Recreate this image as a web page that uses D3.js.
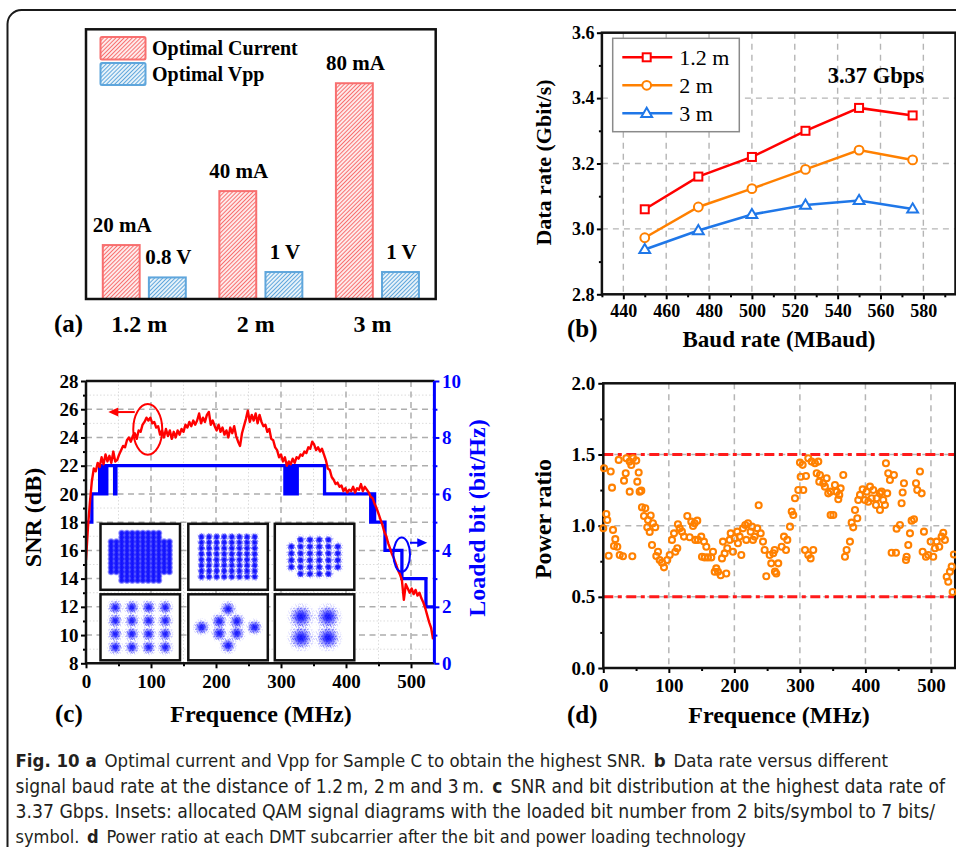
<!DOCTYPE html>
<html>
<head>
<meta charset="utf-8">
<script src="https://cdn.jsdelivr.net/npm/d3@7"></script>
<style>
  html, body { margin: 0; padding: 0; background: #fff; }
  svg { display: block; }
</style>
</head>
<body>
<svg id="fig" width="956" height="847"></svg>
<script>
// ---------------- data ----------------
// (a) optimal bias current and drive amplitude per distance
const distances = ["1.2 m", "2 m", "3 m"];
const optimalCurrent = [20, 40, 80];          // mA
const optimalVpp = [0.8, 1, 1];               // V
const currentLabels = ["20 mA", "40 mA", "80 mA"];
const vppLabels = ["0.8 V", "1 V", "1 V"];

// (b) data rate vs. baud rate
const baudRates = [450, 475, 500, 525, 550, 575];
const rate12m = [3.06, 3.16, 3.22, 3.30, 3.37, 3.347];
const rate2m  = [2.973, 3.067, 3.123, 3.182, 3.241, 3.211];
const rate3m  = [2.937, 2.995, 3.044, 3.073, 3.087, 3.061];
const baudTicks = [440, 460, 480, 500, 520, 540, 560, 580];
const rateTicks = [2.8, 3.0, 3.2, 3.4, 3.6];

// (c) SNR per subcarrier (3 MHz spacing, starting at 0 MHz)
const snrStep = 3;
const snrValues = [
  15.3, 17.6, 19.4, 20.9, 21.8, 21.6, 22.2, 21.9, 22.6, 22.1,
  22.8, 22.3, 22.7, 22.2, 23.0, 22.3, 22.4, 22.8, 23.1, 23.4,
  23.3, 23.8, 24.0, 23.7, 24.1, 24.3, 23.9, 24.5, 24.4, 24.9,
  25.1, 25.4, 25.2, 25.4, 25.0, 25.1, 24.7, 24.8, 24.2, 24.5,
  24.0, 24.6, 24.1, 24.5, 23.9, 24.4, 24.0, 24.5, 24.2, 24.6,
  24.4, 24.9, 24.7, 25.1, 24.8, 25.2, 24.9, 25.2, 25.7, 25.0,
  25.4, 25.1, 25.6, 25.8, 24.9, 25.2, 24.8, 24.5, 24.9, 24.4,
  24.7, 24.2, 24.5, 24.0, 24.7, 24.3, 24.8, 24.1, 23.7, 23.4,
  24.3, 24.8, 25.3, 25.9, 25.1, 25.6, 25.2, 25.7, 25.0, 25.6,
  25.1, 24.8, 24.9, 24.4, 24.6, 23.9, 23.8, 23.3, 23.1, 22.6,
  22.8, 22.3, 22.6, 22.0, 22.3, 22.1, 22.5, 22.2, 22.6, 22.5,
  22.8, 22.7, 23.0, 22.9, 23.3, 23.2, 23.7, 23.5, 23.1, 23.3,
  23.0, 23.2, 22.8, 22.4, 21.8, 21.7, 21.2, 21.0, 20.7, 20.8,
  20.5, 20.6, 20.2, 20.4, 20.1, 20.3, 20.2, 20.5, 20.1, 20.4,
  20.3, 20.7, 20.2, 20.5, 20.3, 20.1, 19.8, 19.7, 19.3, 19.0,
  18.6, 18.2, 17.8, 17.3, 17.0, 16.5, 16.1, 15.7, 15.4, 15.0,
  14.6, 14.3, 13.9, 12.5, 13.6, 13.3, 13.0, 13.3, 12.9, 13.2,
  12.8, 13.0, 12.6, 12.3, 11.9, 11.4, 10.9, 10.5, 9.7
];
// (c) loaded bits: value holds from each frequency to the next
const bitFreq = [0, 9, 21, 22.5, 26, 27.5, 32, 44, 46,
  306, 307, 308, 309, 310, 311, 312, 313, 314, 315, 316, 317, 318, 319, 320, 321, 322, 323, 324, 325,
  367, 438, 441, 444, 460, 486, 523, 536];
const bitValues = [5, 6, 7, 6, 7, 6, 7, 6, 7,
  6, 7, 6, 7, 6, 7, 6, 7, 6, 7, 6, 7, 6, 7, 6, 7, 6, 7, 6, 7,
  6, 5, 6, 5, 4, 3, 2, 2];
const snrTicks = [8, 10, 12, 14, 16, 18, 20, 22, 24, 26, 28];
const bitTicks = [0, 2, 4, 6, 8, 10];
const freqTicks = [0, 100, 200, 300, 400, 500];
// inset constellations, bits per symbol
const insetBits = [7, 6, 5, 4, 3, 2];

// (d) power ratio per subcarrier
const powerFreq = [0, 1.1, 4.6, 6.1, 8.2, 11.3, 13.3, 14.8, 16.3, 18.3, 21.4, 23.5, 25, 30, 31.6, 34.2, 35.1, 40.2, 40.3, 42.7,
  44.3, 45.3, 50.3, 51.9, 54, 55.5, 58, 59, 62.1, 64.1, 67.1, 68.2, 70.8, 72.3, 74.3, 75.8, 79.3, 80.9, 83.5, 86,
  89.6, 92.6, 97.6, 101.3, 104.8, 107.9, 109.9, 112.9, 113.9, 116.6, 120, 123.1, 128.2, 131.8, 134.3, 136.9, 139.4, 140.4, 143.4, 144.5,
  149.5, 150.6, 153.6, 154.7, 157.2, 159.7, 164.8, 167.4, 170, 172.4, 175, 179.1, 181.1, 182.6, 185.2, 187.7, 189.2, 192.8, 194.4, 197.9,
  200.5, 204.5, 205.5, 208.1, 210.6, 213.2, 216.7, 218.2, 220.8, 224.9, 226.9, 228.4, 231, 235, 237.1, 240.2, 243.7, 246.2, 248.7, 253.9,
  256.3, 259.4, 261.5, 262, 264, 267, 272.2, 275.7, 278.8, 280.8, 284.9, 287.5, 289.9, 292.5, 297.6, 300.1, 301.2, 304.2, 305.2, 307.8,
  309.3, 312.8, 312.8, 316.4, 317.9, 320.4, 323, 325.6, 328.1, 329.6, 330.6, 335.7, 338.2, 340.8, 343.3, 346.9, 346.9, 351, 353.5, 356.1,
  358.6, 360.1, 362.2, 366.2, 368.8, 371.3, 376.4, 379, 381.4, 384.1, 387.6, 389.1, 391.7, 395.8, 399.3, 401.9, 404.4, 407, 409.5, 412,
  416.1, 417.1, 422.2, 422.2, 424.7, 427.2, 429.8, 431.3, 433.3, 434.8, 437.4, 440, 443.5, 446.6, 447.6, 452.7, 455.2, 456.8, 458.8, 461.9,
  462.9, 465.4, 468, 470.5, 474.1, 477.2, 479.1, 483.2, 485.8, 487.3, 489.3, 492.4, 495.9, 499.5, 503.5, 506.1, 508.7, 512.7, 516.3, 518.8,
  521.3, 524, 526.4, 529, 531.6, 533.1, 535];
const powerRatio = [0.982, 1.403, 1.082, 1.040, 0.789, 1.380, 1.267, 0.970, 0.857, 0.905, 0.852, 1.462, 0.794, 0.785, 1.316, 1.368, 1.473, 1.450, 1.239, 1.426,
  0.785, 1.473, 1.457, 1.309, 1.373, 1.239, 1.246, 1.129, 1.068, 1.122, 0.989, 1.040, 0.956, 1.071, 0.864, 1.017, 0.989, 0.787, 0.817, 0.759,
  0.740, 0.707, 0.759, 0.794, 0.900, 0.946, 0.817, 0.841, 1.010, 0.981, 0.958, 0.923, 1.068, 0.918, 1.028, 0.998, 1.017, 0.900, 1.035, 0.900,
  0.923, 0.782, 0.888, 0.777, 0.852, 0.777, 0.777, 0.817, 0.676, 0.700, 0.676, 0.652, 0.770, 0.888, 0.805, 0.664, 0.841, 0.900, 0.946, 0.817,
  0.911, 0.958, 0.876, 0.923, 0.794, 0.981, 1.005, 0.900, 1.017, 0.958, 0.993, 0.900, 0.923, 0.981, 1.143, 0.946, 0.888, 0.829, 0.645, 0.794,
  0.735, 0.806, 0.829, 0.677, 0.664, 0.735, 0.852, 0.923, 0.829, 0.900, 0.993, 1.099, 1.075, 1.192, 1.250, 1.443, 1.344, 1.427, 1.250, 0.829,
  1.349, 1.473, 0.794, 0.770, 1.450, 0.829, 1.438, 1.368, 1.450, 1.309, 1.356, 1.297, 1.274, 1.333, 1.227, 1.239, 1.075, 1.075, 1.286, 1.239,
  1.185, 1.216, 1.262, 1.356, 0.782, 0.829, 0.888, 1.021, 0.988, 1.110, 1.052, 1.180, 1.216, 1.255, 1.180, 1.239, 1.168, 1.274, 1.192, 1.250,
  1.145, 1.192, 1.227, 1.110, 1.239, 1.180, 1.145, 1.438, 1.227, 1.368, 1.321, 0.810, 1.356, 0.810, 0.979, 1.005, 1.157, 1.233, 1.298, 0.759,
  0.782, 0.864, 0.946, 1.035, 1.045, 1.298, 1.250, 1.380, 1.227, 0.817, 0.958, 0.782, 0.794, 0.888, 0.782, 0.841, 0.888, 0.852, 0.923, 0.950,
  0.900, 0.641, 0.606, 0.677, 0.712, 0.534, 0.797];
const ratioTicks = [0, 0.5, 1.0, 1.5, 2.0];
const ratioLimits = [0.5, 1.5];

// caption lines: [text, bold] runs
const captionLines = [
  [["Fig. 10 a", true], [" Optimal current and Vpp for Sample C to obtain the highest SNR. ", false], ["b", true], [" Data rate versus different", false]],
  [["signal baud rate at the distance of 1.2\u2009m, 2\u2009m and 3\u2009m. ", false], ["c", true], [" SNR and bit distribution at the highest data rate of", false]],
  [["3.37 Gbps. Insets: allocated QAM signal diagrams with the loaded bit number from 2 bits/symbol to 7 bits/", false]],
  [["symbol. ", false], ["d", true], [" Power ratio at each DMT subcarrier after the bit and power loading technology", false]]
];

// ---------------- drawing ----------------
const SERIF = "'Liberation Serif','Times New Roman',serif";
const fig = d3.select("#fig");
const defs = fig.append("defs");

const RED = "#ff0000", ORANGE = "#ff8000", BLUE_B = "#1f77e8", BLUE = "#0000ff";

// outer rounded border
fig.append("rect").attr("x", 7.5).attr("y", 10).attr("width", 1100).attr("height", 1000)
  .attr("rx", 14).attr("fill", "none").attr("stroke", "#1a1a1a").attr("stroke-width", 2);

function txt(parent, x, y, s, size, opts = {}) {
  return parent.append("text").attr("x", x).attr("y", y).text(s)
    .attr("font-family", SERIF).attr("font-size", size)
    .attr("font-weight", opts.weight || "bold")
    .attr("fill", opts.fill || "#000")
    .attr("text-anchor", opts.anchor || "start");
}
function vtxt(parent, x, y, s, size, fill) {
  return parent.append("text").attr("transform", `translate(${x},${y}) rotate(-90)`)
    .attr("text-anchor", "middle").attr("font-family", SERIF).attr("font-size", size)
    .attr("font-weight", "bold").attr("fill", fill || "#000").text(s);
}
function axisG(parent, gen, tx, ty, color, fs) {
  const g = parent.append("g").attr("transform", `translate(${tx},${ty})`).call(gen);
  g.select(".domain").remove();
  g.selectAll(".tick line").attr("stroke", color).attr("stroke-width", 2);
  g.selectAll(".tick text").attr("fill", color).attr("font-family", SERIF)
    .attr("font-weight", "bold").attr("font-size", fs);
  return g;
}
function vgrid(parent, scale, values, y0, y1, stroke, width, dash) {
  parent.append("g").selectAll("line").data(values).join("line")
    .attr("x1", d => scale(d)).attr("x2", d => scale(d)).attr("y1", y0).attr("y2", y1)
    .attr("stroke", stroke).attr("stroke-width", width).attr("stroke-dasharray", dash);
}
function hgrid(parent, scale, values, x0, x1, stroke, width, dash) {
  parent.append("g").selectAll("line").data(values).join("line")
    .attr("y1", d => scale(d)).attr("y2", d => scale(d)).attr("x1", x0).attr("x2", x1)
    .attr("stroke", stroke).attr("stroke-width", width).attr("stroke-dasharray", dash);
}

// ===== (a) =====
(function () {
  const L = 86, R = 435.7, T = 29.3, B = 299;
  const g = fig.append("g");
  function hatch(id, color) {
    const p = defs.append("pattern").attr("id", id).attr("patternUnits", "userSpaceOnUse")
      .attr("width", 2.9).attr("height", 2.9).attr("patternTransform", "rotate(45)");
    p.append("rect").attr("width", 2.9).attr("height", 2.9).attr("fill", "#fff");
    p.append("line").attr("x1", 1.45).attr("x2", 1.45).attr("y1", 0).attr("y2", 2.9)
      .attr("stroke", color).attr("stroke-width", 1.25);
  }
  const cRed = "#f86f6f", cBlue = "#5fa6dc";
  hatch("hRed", cRed); hatch("hBlue", cBlue);

  const x0 = d3.scaleBand().domain(distances).range([L, R]).paddingInner(0.288).paddingOuter(0.144);
  const x1 = d3.scaleBand().domain(["cur", "vpp"]).range([0, x0.bandwidth()]).paddingInner(0.2);
  const yCur = d3.scaleLinear().domain([0, 100]).range([B, T]);
  const yVpp = d3.scaleLinear().domain([0, 10]).range([B, T]);

  g.selectAll(".bc").data(distances).join("rect")
    .attr("x", d => x0(d) + x1("cur")).attr("width", x1.bandwidth())
    .attr("y", (d, i) => yCur(optimalCurrent[i])).attr("height", (d, i) => B - yCur(optimalCurrent[i]))
    .attr("fill", "url(#hRed)").attr("stroke", cRed).attr("stroke-width", 2);
  g.selectAll(".bv").data(distances).join("rect")
    .attr("x", d => x0(d) + x1("vpp")).attr("width", x1.bandwidth())
    .attr("y", (d, i) => yVpp(optimalVpp[i])).attr("height", (d, i) => B - yVpp(optimalVpp[i]))
    .attr("fill", "url(#hBlue)").attr("stroke", cBlue).attr("stroke-width", 2);

  distances.forEach((d, i) => {
    txt(g, x0(d) + x1("cur") + x1.bandwidth() / 2 + 1, yCur(optimalCurrent[i]) - 13, currentLabels[i], 21, { anchor: "middle" });
    txt(g, x0(d) + x1("vpp") + x1.bandwidth() / 2 + 1, yVpp(optimalVpp[i]) - 13, vppLabels[i], 21, { anchor: "middle" });
    txt(g, x0(d) + x0.bandwidth() / 2 - 5, 332, d, 24, { anchor: "middle" });
  });

  g.append("rect").attr("x", L).attr("y", T).attr("width", R - L).attr("height", B - T)
    .attr("fill", "none").attr("stroke", "#111").attr("stroke-width", 2.5);

  // legend
  g.append("rect").attr("x", 100.5).attr("y", 37).attr("width", 45).attr("height", 22.5)
    .attr("fill", "url(#hRed)").attr("stroke", cRed).attr("stroke-width", 2).attr("rx", 1.5);
  g.append("rect").attr("x", 100.5).attr("y", 63).attr("width", 45).attr("height", 22)
    .attr("fill", "url(#hBlue)").attr("stroke", cBlue).attr("stroke-width", 2).attr("rx", 1.5);
  txt(g, 152, 55, "Optimal Current", 20);
  txt(g, 152, 81, "Optimal Vpp", 20);
  txt(g, 54, 332, "(a)", 25);
})();

// ===== (b) =====
(function () {
  const L = 601.9, R = 955.5, T = 32.7, B = 294.3;
  const g = fig.append("g");
  const x = d3.scaleLinear().domain([430, 595]).range([L, R]);
  const y = d3.scaleLinear().domain([2.8, 3.6]).range([B, T]);

  vgrid(g, x, baudTicks, T, B, "#b5b5b5", 1.4, "6,5");
  hgrid(g, y, [3.0, 3.2, 3.4], L, R, "#b5b5b5", 1.4, "6,5");

  axisG(g, d3.axisBottom(x).tickValues(baudTicks).tickSize(5).tickPadding(4.5).tickFormat(d3.format("d")), 0, B, "#000", 18);
  axisG(g, d3.axisBottom(x).tickValues([430, 450, 470, 490, 510, 530, 550, 570, 590]).tickSize(3).tickFormat(""), 0, B, "#000", 18);
  axisG(g, d3.axisLeft(y).tickValues(rateTicks).tickSize(5).tickPadding(2.5).tickFormat(d3.format(".1f")), L, 0, "#000", 18);
  axisG(g, d3.axisLeft(y).tickValues([2.9, 3.1, 3.3, 3.5]).tickSize(3).tickFormat(""), L, 0, "#000", 18);

  g.append("rect").attr("x", L).attr("y", T).attr("width", R - L).attr("height", B - T)
    .attr("fill", "none").attr("stroke", "#111").attr("stroke-width", 2.5);

  const series = [
    { name: "1.2 m", vals: rate12m, color: RED, shape: "square" },
    { name: "2 m", vals: rate2m, color: ORANGE, shape: "circle" },
    { name: "3 m", vals: rate3m, color: BLUE_B, shape: "triangle" }
  ];
  function marker(sel, shape, color) {
    if (shape === "square") sel.append("rect").attr("x", -4).attr("y", -4).attr("width", 8).attr("height", 8);
    else if (shape === "circle") sel.append("circle").attr("r", 4.4);
    else sel.append("path").attr("d", "M0,-5.6L5.4,3.6L-5.4,3.6Z");
    sel.selectAll("rect,circle,path").attr("fill", "#fff").attr("stroke", color).attr("stroke-width", 2);
  }
  const line = d3.line().x((d, i) => x(baudRates[i])).y(d => y(d));
  series.forEach(s => {
    g.append("path").attr("d", line(s.vals)).attr("fill", "none").attr("stroke", s.color).attr("stroke-width", 2.5);
    s.vals.forEach((v, i) => {
      const m = g.append("g").attr("transform", `translate(${x(baudRates[i])},${y(v)})`);
      marker(m, s.shape, s.color);
    });
  });

  // legend
  g.append("rect").attr("x", 612.7).attr("y", 38.3).attr("width", 126.6).attr("height", 93.4)
    .attr("fill", "#fff").attr("stroke", "#8a8a8a").attr("stroke-width", 1.5);
  series.forEach((s, i) => {
    const yy = 57.3 + i * 28;
    g.append("line").attr("x1", 622.3).attr("x2", 672.3).attr("y1", yy).attr("y2", yy)
      .attr("stroke", s.color).attr("stroke-width", 2.5);
    marker(g.append("g").attr("transform", `translate(646.7,${yy})`), s.shape, s.color);
    txt(g, 679.3, yy + 7.7, s.name, 22, { weight: "normal" });
  });

  txt(g, 827.7, 82.7, "3.37 Gbps", 22.5);
  vtxt(g, 551, 162.5, "Data rate (Gbit/s)", 22);
  txt(g, 779, 346.5, "Baud rate (MBaud)", 23, { anchor: "middle" });
  txt(g, 567, 336.7, "(b)", 25);
})();

// ===== (c) =====
(function () {
  const L = 86, R = 434.4, T = 381, B = 663.3;
  const g = fig.append("g");
  const x = d3.scaleLinear().domain([0, 536]).range([L, R]);
  const y = d3.scaleLinear().domain([8, 28]).range([B, T]);
  const yb = d3.scaleLinear().domain([0, 10]).range([B, T]);

  // minor dotted grid, then major dashed grid
  vgrid(g, x, [50, 150, 250, 350, 450], T, B, "#dcdcdc", 1, "1.5,2");
  hgrid(g, y, [9, 11, 13, 15, 17, 19, 21, 23, 25, 27], L, R, "#dcdcdc", 1, "1.5,2");
  vgrid(g, x, [100, 200, 300, 400, 500], T, B, "#adadad", 1.5, "6,4.5");
  hgrid(g, y, [10, 12, 14, 16, 18, 20, 22, 24, 26], L, R, "#adadad", 1.5, "6,4.5");

  // cluster look: dense core gradient plus a speckled halo
  const rg = defs.append("radialGradient").attr("id", "blob");
  [[0, 0.95], [0.45, 0.85], [0.75, 0.4], [1, 0]].forEach(([o, a]) =>
    rg.append("stop").attr("offset", o).attr("stop-color", BLUE).attr("stop-opacity", a));
  const rs = defs.append("radialGradient").attr("id", "soft");
  [[0, 0.9], [0.3, 0.78], [0.6, 0.4], [0.85, 0.12], [1, 0]].forEach(([o, a]) =>
    rs.append("stop").attr("offset", o).attr("stop-color", BLUE).attr("stop-opacity", a));
  const sp = defs.append("pattern").attr("id", "speckle").attr("patternUnits", "userSpaceOnUse")
    .attr("width", 7).attr("height", 7);
  [[0.6, 1.1], [3.4, 0.4], [5.8, 2.2], [1.9, 3.6], [4.6, 4.3], [0.3, 5.7], [2.8, 6.3], [6.2, 5.9], [3.9, 2.5], [5.3, 0.9], [1.2, 2.4], [4.1, 5.8]]
    .forEach(([px, py]) => sp.append("rect").attr("x", px).attr("y", py).attr("width", 0.8).attr("height", 0.8).attr("fill", BLUE));
  const fadeMask = defs.append("mask").attr("id", "fade").attr("maskContentUnits", "objectBoundingBox");
  const wg = defs.append("radialGradient").attr("id", "whiteFade");
  [[0, 1], [0.6, 0.8], [1, 0]].forEach(([o, a]) =>
    wg.append("stop").attr("offset", o).attr("stop-color", "#fff").attr("stop-opacity", a));
  fadeMask.append("rect").attr("width", 1).attr("height", 1).attr("fill", "url(#whiteFade)");

  function qamPoints(bits) {
    if (bits === 3) return [[-1, -1], [1, -1], [-1, 1], [1, 1], [-3, 0], [3, 0], [0, -3], [0, 3]];
    const squareSide = { 2: 2, 4: 4, 6: 8 }[bits];
    const crossSide = { 5: 6, 7: 12 }[bits];
    const n = squareSide || crossSide;
    const cut = crossSide ? crossSide / 6 : 0;
    const pts = [];
    for (let i = 0; i < n; i++) for (let j = 0; j < n; j++) {
      const edgeI = i < cut || i >= n - cut, edgeJ = j < cut || j >= n - cut;
      if (edgeI && edgeJ) continue;
      pts.push([i - (n - 1) / 2, j - (n - 1) / 2]);
    }
    return pts;
  }
  const boxX = [100.5, 188.3, 274.8], boxY = [523.8, 594.3], boxW = 79.5, boxH = 66;
  // [x spacing, y spacing, core radius, halo radius, core gradient]
  const spread = {
    7: [5.3, 4.3, 4.0, 0, "blob"], 6: [7.6, 5.7, 3.8, 5, "blob"], 5: [9.3, 6.8, 4.0, 6, "blob"],
    4: [16.7, 13.3, 6.6, 9, "soft"], 3: [8.8, 6.1, 7.2, 9.5, "soft"], 2: [27, 21, 11, 15, "soft"]
  };
  insetBits.forEach((bits, k) => {
    const bx = boxX[k % 3], by = boxY[Math.floor(k / 3)];
    const cx = bx + boxW / 2, cy = by + boxH / 2;
    const ig = g.append("g");
    ig.append("rect").attr("x", bx).attr("y", by).attr("width", boxW).attr("height", boxH)
      .attr("fill", "#fff").attr("stroke", "#111").attr("stroke-width", 2.5);
    const [sx, sy, r, halo, grad] = spread[bits];
    const pts = qamPoints(bits);
    if (halo > 0) {
      ig.append("g").selectAll("circle").data(pts).join("circle")
        .attr("cx", d => cx + d[0] * sx).attr("cy", d => cy + d[1] * sy).attr("r", halo)
        .attr("fill", "url(#speckle)").attr("mask", "url(#fade)");
    }
    ig.append("g").selectAll("circle").data(pts).join("circle")
      .attr("cx", d => cx + d[0] * sx).attr("cy", d => cy + d[1] * sy).attr("r", r)
      .attr("fill", `url(#${grad})`);
  });

  // curves
  const clip = defs.append("clipPath").attr("id", "clipC");
  clip.append("rect").attr("x", L).attr("y", T - 2).attr("width", R - L).attr("height", B - T + 4);
  const cg = g.append("g").attr("clip-path", "url(#clipC)");
  const bitLine = d3.line().curve(d3.curveStepAfter).x((d, i) => x(bitFreq[i])).y(d => yb(d));
  cg.append("path").attr("d", bitLine(bitValues)).attr("fill", "none").attr("stroke", BLUE)
    .attr("stroke-width", 3.3).attr("stroke-linejoin", "miter");
  const snrLine = d3.line().x((d, i) => x(i * snrStep)).y(d => y(d));
  cg.append("path").attr("d", snrLine(snrValues)).attr("fill", "none").attr("stroke", RED)
    .attr("stroke-width", 2.4).attr("stroke-linejoin", "round");

  // axes
  axisG(g, d3.axisBottom(x).tickValues(freqTicks).tickSize(5).tickPadding(6).tickFormat(d3.format("d")), 0, B, "#000", 19);
  axisG(g, d3.axisBottom(x).tickValues([50, 150, 250, 350, 450]).tickSize(3).tickFormat(""), 0, B, "#000", 19);
  axisG(g, d3.axisLeft(y).tickValues(snrTicks).tickSize(5).tickPadding(2.5), L, 0, "#000", 19);
  axisG(g, d3.axisLeft(y).tickValues([9, 11, 13, 15, 17, 19, 21, 23, 25, 27]).tickSize(3).tickFormat(""), L, 0, "#000", 19);
  axisG(g, d3.axisRight(yb).tickValues(bitTicks).tickSize(5).tickPadding(2.5), R, 0, BLUE, 19);
  axisG(g, d3.axisRight(yb).tickValues([1, 3, 5, 7, 9]).tickSize(3).tickFormat(""), R, 0, BLUE, 19);

  g.append("line").attr("x1", L).attr("x2", L).attr("y1", T).attr("y2", B).attr("stroke", "#111").attr("stroke-width", 2.5);
  g.append("line").attr("x1", L).attr("x2", R).attr("y1", B).attr("y2", B).attr("stroke", "#111").attr("stroke-width", 2.5);
  g.append("line").attr("x1", L).attr("x2", R).attr("y1", T).attr("y2", T).attr("stroke", "#111").attr("stroke-width", 2.5);
  g.append("line").attr("x1", R).attr("x2", R).attr("y1", T).attr("y2", B).attr("stroke", BLUE).attr("stroke-width", 3);

  // annotations: SNR uses the left axis, loaded bits the right axis
  g.append("ellipse").attr("cx", x(95)).attr("cy", y(24.57)).attr("rx", 14.5).attr("ry", 25.3)
    .attr("fill", "none").attr("stroke", RED).attr("stroke-width", 2);
  const ay = y(25.8);
  g.append("line").attr("x1", x(75)).attr("x2", x(40)).attr("y1", ay).attr("y2", ay).attr("stroke", RED).attr("stroke-width", 2);
  g.append("path").attr("d", `M${x(34.3)},${ay}L${x(34.3) + 10},${ay - 4.5}L${x(34.3) + 10},${ay + 4.5}Z`).attr("fill", RED);

  g.append("ellipse").attr("cx", x(485.7)).attr("cy", yb(3.85)).attr("rx", 8.3).attr("ry", 17.2)
    .attr("fill", "none").attr("stroke", BLUE).attr("stroke-width", 2);
  const by2 = yb(4.27);
  g.append("line").attr("x1", x(498.5)).attr("x2", x(520)).attr("y1", by2).attr("y2", by2).attr("stroke", BLUE).attr("stroke-width", 2);
  g.append("path").attr("d", `M${x(525)},${by2}L${x(525) - 10},${by2 - 4.5}L${x(525) - 10},${by2 + 4.5}Z`).attr("fill", BLUE);

  vtxt(g, 41, 517.5, "SNR (dB)", 24);
  vtxt(g, 485, 518, "Loaded bit (bit/Hz)", 24, BLUE);
  txt(g, 261, 721.7, "Frequence (MHz)", 24, { anchor: "middle" });
  txt(g, 55, 721.7, "(c)", 25);
})();

// ===== (d) =====
(function () {
  const L = 603.3, R = 955.2, T = 383.3, B = 668;
  const g = fig.append("g");
  const x = d3.scaleLinear().domain([0, 537]).range([L, R]);
  const y = d3.scaleLinear().domain([0, 2]).range([B, T]);

  vgrid(g, x, [100, 200, 300, 400, 500], T, B, "#b5b5b5", 1.5, "6,5");
  hgrid(g, y, [0.5, 1.0, 1.5], L, R, "#b5b5b5", 1.5, "6,5");
  hgrid(g, y, ratioLimits, L, R, "#ff1a1a", 3, "10,4.5,4,4.5");

  axisG(g, d3.axisBottom(x).tickValues(freqTicks).tickSize(5).tickPadding(6).tickFormat(d3.format("d")), 0, B, "#000", 19);
  axisG(g, d3.axisBottom(x).tickValues([50, 150, 250, 350, 450]).tickSize(3).tickFormat(""), 0, B, "#000", 19);
  axisG(g, d3.axisLeft(y).tickValues(ratioTicks).tickSize(5).tickPadding(3).tickFormat(d3.format(".1f")), L, 0, "#000", 19);
  axisG(g, d3.axisLeft(y).tickValues([0.25, 0.75, 1.25, 1.75]).tickSize(3).tickFormat(""), L, 0, "#000", 19);

  g.append("rect").attr("x", L).attr("y", T).attr("width", R - L).attr("height", B - T)
    .attr("fill", "none").attr("stroke", "#111").attr("stroke-width", 2.5);

  g.append("g").selectAll("circle").data(powerRatio).join("circle")
    .attr("cx", (d, i) => x(powerFreq[i])).attr("cy", d => y(d)).attr("r", 3)
    .attr("fill", "none").attr("stroke", ORANGE).attr("stroke-width", 2.1);

  vtxt(g, 551, 519, "Power ratio", 24);
  txt(g, 779, 723.3, "Frequence (MHz)", 24, { anchor: "middle" });
  txt(g, 567, 723.3, "(d)", 25);
})();

// ===== caption =====
// each run is its own text element laid end to end. A line that would run long gets a
// smaller font size instead of squeezed glyphs; a short line is stretched to its width.
(function () {
  const baselines = [767, 792.5, 818, 842.5];
  const ends = [888, 945, 935, 746];
  const x0 = 15.5, baseSize = 19;
  const font = "'Liberation Sans Narrow','DejaVu Sans Condensed','Open Sans',sans-serif";
  const cg = fig.append("g");
  function measure(s, bold, size) {
    const t = cg.append("text").attr("font-family", font).attr("font-size", size)
      .attr("font-weight", bold ? "bold" : "normal").style("white-space", "pre").text(s);
    const w = t.node().getComputedTextLength();
    t.remove();
    return w;
  }
  captionLines.forEach((runs, i) => {
    const target = ends[i] - x0;
    const layout = size => {
      const gapW = (measure("a a", false, size) - measure("aa", false, size)) * 1.5;
      const parts = runs.map(([s, b]) => {
        const lead = s.length - s.trimStart().length, trail = s.length - s.trimEnd().length;
        return { s: s.trim(), b, lead, trail, w: measure(s.trim(), b, size) };
      });
      const gaps = d3.sum(parts, p => (p.lead + p.trail) * gapW);
      return { parts, gapW, gaps, text: d3.sum(parts, p => p.w) };
    };
    let size = baseSize;
    let lay = layout(size);
    if (lay.text + lay.gaps > target) {
      size = baseSize * target / (lay.text + lay.gaps) * 0.995;
      lay = layout(size);
    }
    const k = Math.max(1, (target - lay.gaps) / lay.text);
    let cx = x0;
    lay.parts.forEach(p => {
      cx += p.lead * lay.gapW;
      cg.append("text").attr("x", cx).attr("y", baselines[i])
        .attr("font-family", font).attr("font-size", size).attr("fill", "#231f20")
        .attr("font-weight", p.b ? "bold" : "normal")
        .attr("textLength", p.w * k).attr("lengthAdjust", "spacingAndGlyphs").text(p.s);
      cx += p.w * k + p.trail * lay.gapW;
    });
  });
})();
</script>
</body>
</html>
